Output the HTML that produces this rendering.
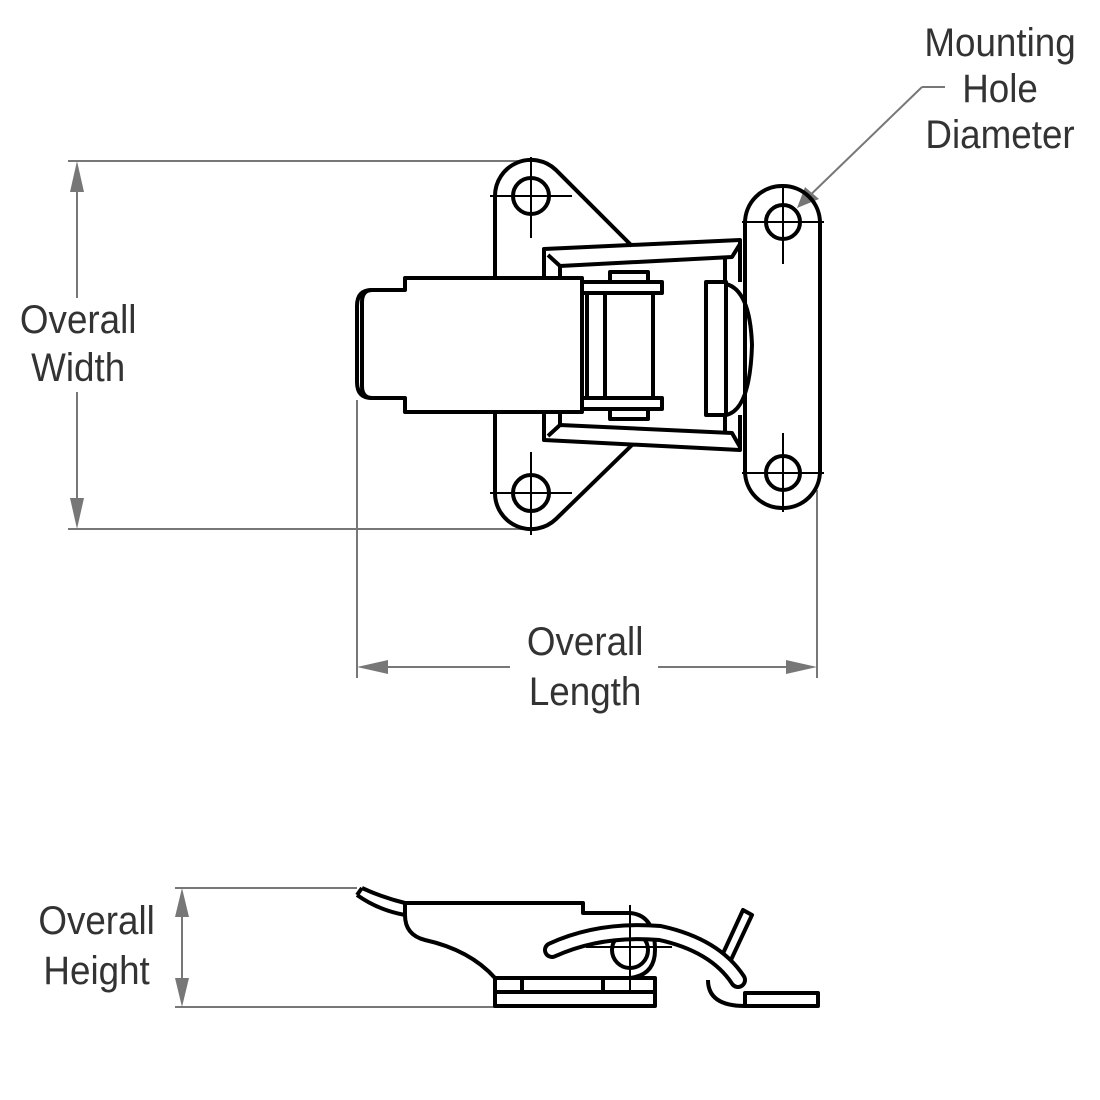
<!DOCTYPE html>
<html><head><meta charset="utf-8"><style>
html,body{margin:0;padding:0;background:#fff}
svg{display:block}
text{font-family:"Liberation Sans",Arial,sans-serif;font-size:40px;fill:#333}
</style></head><body>
<svg width="1100" height="1100" viewBox="0 0 1100 1100" xmlns="http://www.w3.org/2000/svg">
<g stroke="#777" stroke-width="2" fill="none">
<line x1="68" y1="161" x2="530" y2="161"/>
<line x1="68" y1="529" x2="530" y2="529"/>
<line x1="77" y1="190" x2="77" y2="298"/>
<line x1="77" y1="392" x2="77" y2="500"/>
<line x1="357" y1="400" x2="357" y2="678"/>
<line x1="817" y1="490" x2="817" y2="678"/>
<line x1="386" y1="667" x2="510" y2="667"/>
<line x1="658" y1="667" x2="788" y2="667"/>
<line x1="175" y1="888" x2="357" y2="888"/>
<line x1="175" y1="1007" x2="495" y2="1007"/>
<line x1="182" y1="915" x2="182" y2="980"/>
<line x1="945" y1="87" x2="922" y2="87"/>
<line x1="922" y1="87" x2="800" y2="205"/>
</g>
<g fill="#777">
<path d="M77,161 L70,192 L84,192 Z"/><path d="M77,529 L70,498 L84,498 Z"/>
<path d="M357,667 L388,660 L388,674 Z"/><path d="M817,667 L786,660 L786,674 Z"/>
<path d="M182,888 L175,917 L189,917 Z"/><path d="M182,1007 L175,978 L189,978 Z"/>
<path d="M797,208 L805,187 L819,199 Z"/>
</g>
<g transform="scale(0.92,1)">
<text x="85" y="333" text-anchor="middle">Overall</text>
<text x="85" y="381" text-anchor="middle">Width</text>
<text x="1087" y="56" text-anchor="middle">Mounting</text>
<text x="1087" y="102" text-anchor="middle">Hole</text>
<text x="1087" y="148" text-anchor="middle">Diameter</text>
<text x="636" y="655" text-anchor="middle">Overall</text>
<text x="636" y="705" text-anchor="middle">Length</text>
<text x="105" y="934" text-anchor="middle">Overall</text>
<text x="105" y="984" text-anchor="middle">Height</text>
</g>

<g stroke="#000" stroke-width="4" fill="none" stroke-linejoin="round">
<path d="M495,278 L495,196 A36,36 0 0 1 556,170 L632,246"/>
<path d="M495,413 L495,493 A36,36 0 0 0 556,519 L632,445"/>
<circle cx="531" cy="196" r="18"/><circle cx="531" cy="493" r="18"/>
<rect x="745" y="186" width="75" height="322" rx="37"/>
<circle cx="783" cy="222" r="17"/><circle cx="783" cy="473" r="17"/>
<path d="M544,278 L544,249 L740,240 L740,282"/>
<path d="M548,255 L560,266 L732,257 L740,244"/>
<path d="M560,266 L560,278 M725,258 L725,282"/>
<path d="M544,413 L544,440 L740,450 L740,415"/>
<path d="M548,436 L560,425 L732,433 L740,447"/>
<path d="M560,425 L560,413 M725,433 L725,415"/>
<path d="M582,278 L405,278 L405,290 L372,290 Q362,290 362,302 L362,386 Q362,398 372,398 L405,398 L405,412 L582,412 Z"/>
<path d="M372,290 Q357,290 357,306 L357,382 Q357,398 372,398"/>
<rect x="582" y="282" width="80" height="11"/>
<rect x="582" y="398" width="80" height="11"/>
<line x1="587" y1="293" x2="587" y2="398"/>
<line x1="605" y1="293" x2="605" y2="398"/>
<line x1="653" y1="293" x2="653" y2="398"/>
<rect x="610" y="272" width="38" height="10"/>
<rect x="610" y="409" width="38" height="10"/>
<rect x="706" y="282" width="20" height="133"/>
<path d="M726,284 Q750,290 752,345 Q750,410 726,415"/>
</g>
<g stroke="#000" stroke-width="2" fill="none">
<line x1="490" y1="196" x2="572" y2="196"/><line x1="531" y1="157" x2="531" y2="238"/>
<line x1="490" y1="493" x2="572" y2="493"/><line x1="531" y1="452" x2="531" y2="535"/>
<line x1="742" y1="222" x2="824" y2="222"/><line x1="783" y1="185" x2="783" y2="264"/>
<line x1="742" y1="473" x2="824" y2="473"/><line x1="783" y1="433" x2="783" y2="512"/>
</g>

<g stroke="#000" stroke-width="4" fill="none" stroke-linejoin="round">
<path d="M362,888 Q384,898 405,903 L583,903 L583,913 L630,913"/>
<path d="M405,903 L405,915 Q405,935 425,940 Q470,950 495,978"/>
<path d="M357,895 L362,888 M357,895 Q378,910 405,915"/>
<rect x="495" y="978" width="160" height="14"/>
<rect x="495" y="992" width="160" height="14"/>
<line x1="522" y1="978" x2="522" y2="992"/><line x1="603" y1="978" x2="603" y2="992"/>
<circle cx="630" cy="950" r="18"/>
<path d="M630,913 Q655,915 655,950 Q655,975 630,978"/>
<rect x="745" y="993" width="73" height="13"/>
<path d="M708,980 Q708,1006 745,1006"/>
<path d="M720,960 L743,910 L752,915 L730,962"/>
</g>
<path d="M552,950 Q600,928 660,933 Q715,945 738,980" stroke="#000" stroke-width="18" fill="none" stroke-linecap="round"/>
<path d="M552,950 Q600,928 660,933 Q715,945 738,980" stroke="#fff" stroke-width="10" fill="none" stroke-linecap="round"/>
<g stroke="#000" stroke-width="2">
<line x1="630" y1="905" x2="630" y2="990"/><line x1="586" y1="947" x2="672" y2="947"/>
</g>
</svg>
</body></html>
